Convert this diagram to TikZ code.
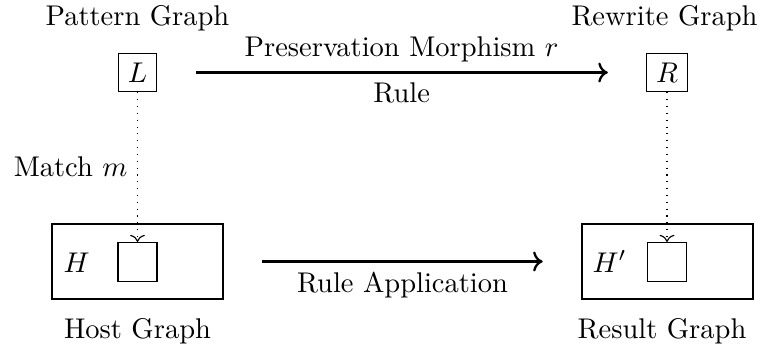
\documentclass[tikz,border=0pt]{standalone}
\usetikzlibrary{arrows.meta}
\begin{document}
\begin{tikzpicture}[x=0.3509pt,y=-0.3509pt,
  graphbox/.style={draw,thin,inner sep=3.333pt},
  outerbox/.style={draw,thin,minimum width=60pt,minimum height=26.3pt,inner sep=0pt},
  innerbox/.style={draw,thin,minimum width=13.7pt,minimum height=13.7pt,inner sep=0pt},
  caption/.style={anchor=base,inner sep=0pt},
  mainarrow/.style={->,thick},
  matcharrow/.style={->,thin,dotted}]
\useasboundingbox (0,0) rectangle (765,349);
% top row
\node[graphbox] (L) at (137.5,72.5) {$L$};
\node[graphbox] (R) at (667,72.5) {$R$};
\node[caption] (pt) at (137.5,25) {Pattern Graph};
\node[caption] (rw) at (664.5,25) {Rewrite Graph};
% bottom row
\node[outerbox] (H) at (137.5,261.5) {};
\node[innerbox] (Hi) at (137.5,262) {};
\node[outerbox] (Hp) at (667.5,261.5) {};
\node[innerbox] (Hpi) at (667,262) {};
\node[anchor=base west,inner sep=0pt] (Hl) at (63,272) {$H$};
\node[anchor=base west,inner sep=0pt] (Hpl) at (592,272) {$H'$};
\node[caption] (hg) at (137.5,338) {Host Graph};
\node[caption] (rg) at (662,338) {Result Graph};
% connectors
\draw[mainarrow,shorten <=13.6pt,shorten >=13.4pt] (L) -- node[above]{Preservation Morphism $r$} node[below]{Rule} (R);
\draw[mainarrow,shorten <=13.4pt,shorten >=13.6pt] (H) -- node[below]{Rule Application} (Hp);
\draw[matcharrow] (L) -- node[left]{Match $m$} (Hi);
\draw[matcharrow] (R) -- (Hpi);
\end{tikzpicture}
\end{document}
